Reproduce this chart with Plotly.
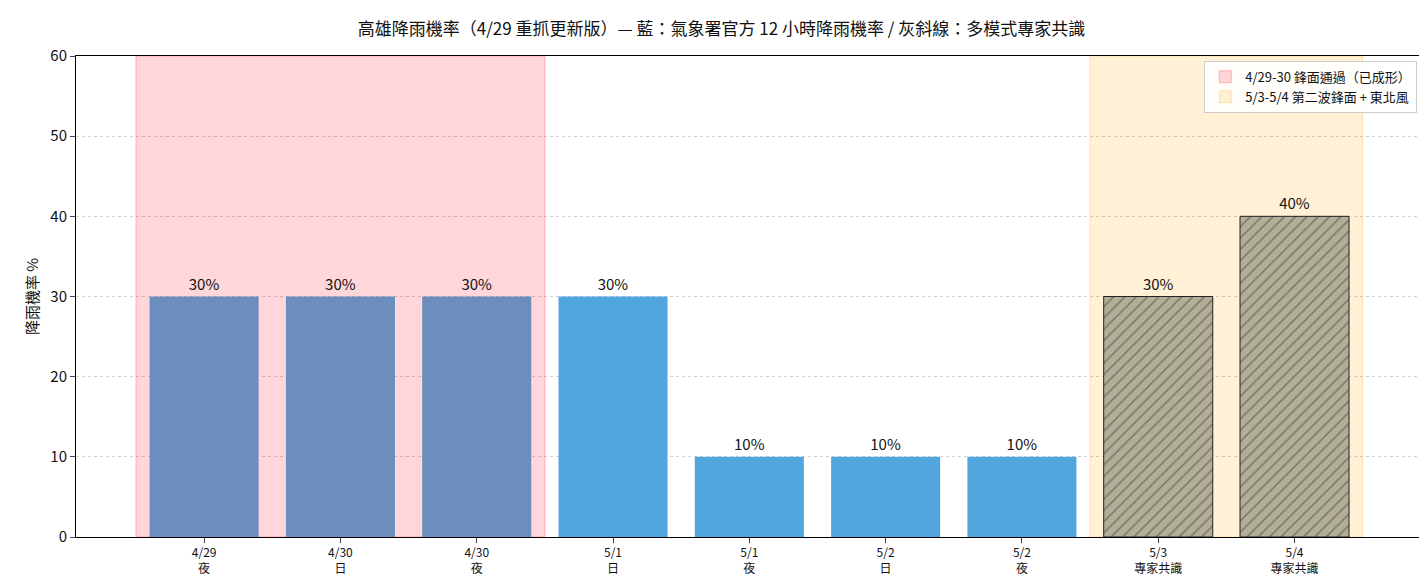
import plotly.graph_objects as go

labels = ["4/29<br>夜","4/30<br>日","4/30<br>夜","5/1<br>日","5/1<br>夜","5/2<br>日","5/2<br>夜","5/3<br>專家共識","5/4<br>專家共識"]
values = [30,30,30,30,10,10,10,30,40]
kinds = ["past","past","past","cwa","cwa","cwa","cwa","expert","expert"]
colors = {"past":"#6b8ebe","cwa":"#52a6de","expert":"#b3af97"}
x = list(range(len(values)))

F = "Noto Sans CJK TC"
fig = go.Figure()
fig.add_bar(x=x, y=values, width=0.8, showlegend=False,
            marker=dict(color=[colors[k] for k in kinds],
                        line=dict(width=[0 if k!="expert" else 1 for k in kinds], color="#222"),
                        pattern=dict(shape=["" if k!="expert" else "/" for k in kinds],
                                     fgcolor="#222", bgcolor="#b3af97", size=8, solidity=0.2)),
            text=[f"{v}%" for v in values], textposition="outside",
            textfont=dict(size=15, color="#111", family=F), cliponaxis=False)

fig.add_shape(type="rect", xref="x", yref="paper", x0=-0.5, x1=2.5, y0=0, y1=1,
              fillcolor="rgba(255,120,130,0.3)", line=dict(color="rgba(255,120,130,0.5)", width=1),
              layer="below", showlegend=True, name="4/29-30 鋒面通過（已成形）")
fig.add_shape(type="rect", xref="x", yref="paper", x0=6.5, x1=8.5, y0=0, y1=1,
              fillcolor="rgba(255,205,120,0.3)", line=dict(color="rgba(255,205,120,0.5)", width=1),
              layer="below", showlegend=True, name="5/3-5/4 第二波鋒面 + 東北風")

fig.update_layout(
    width=1427, height=585, plot_bgcolor="white", paper_bgcolor="white",
    margin=dict(l=68, r=11, t=48, b=56, autoexpand=False),
    font=dict(family=F, size=13, color="#111"),
    title=dict(text="高雄降雨機率（4/29 重抓更新版）— 藍：氣象署官方 12 小時降雨機率 / 灰斜線：多模式專家共識",
               x=0.5, xanchor="center", y=0.975, font=dict(size=17, family=F)),
    xaxis=dict(range=[-0.94, 8.95], tickvals=x, ticktext=labels, showline=True, linecolor="black",
               mirror=True, ticks="outside", tickfont=dict(size=12), showgrid=False, automargin=False),
    yaxis=dict(range=[0, 60], dtick=10, showline=True, linecolor="black", mirror=True, ticks="outside",
               gridcolor="rgba(0,0,0,0.18)", griddash="dot", title=dict(text="降雨機率 %", font=dict(size=15), standoff=8),
               tickfont=dict(size=15), zeroline=False, automargin=False),
    legend=dict(x=0.995, y=0.99, xanchor="right", yanchor="top", bgcolor="rgba(255,255,255,0.9)",
                bordercolor="#ccc", borderwidth=1, font=dict(size=13)),
    bargap=0.2,
)
fig.write_html("out.html")
